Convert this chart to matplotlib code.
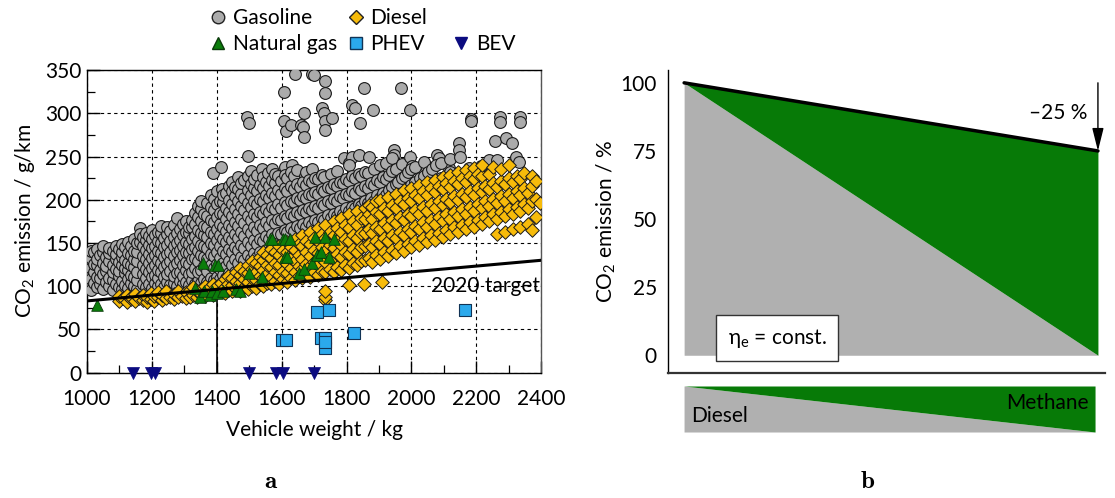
import matplotlib
matplotlib.use("Agg")
import matplotlib.pyplot as plt
from matplotlib.lines import Line2D
import numpy as np

plt.rcParams['font.family'] = ['Lato', 'DejaVu Sans']
plt.rcParams['mathtext.fontset'] = 'custom'
plt.rcParams['mathtext.rm'] = 'Lato'
plt.rcParams['mathtext.it'] = 'Lato:italic'

# ---------------- data (panel a): (vehicle weight kg, CO2 g/km) ----------------
gasoline = [
    (1002,101),(1002,113),(1002,128),(1002,137),
    (1012,96),(1012,108),(1012,121),(1012,133),(1012,141),
    (1022,104),(1022,117),(1022,126),(1022,139),
    (1031,99),(1031,111),(1031,124),(1031,131),(1031,143),
    (1041,102),(1041,109),(1041,119),(1041,136),
    (1050,97),(1050,114),(1050,127),(1050,140),(1050,146),
    (1060,105),(1060,118),(1060,123),(1060,134),
    (1069,100),(1069,110),(1069,129),(1069,138),(1069,144),
    (1079,96),(1079,107),(1079,116),(1079,125),(1079,141),
    (1088,103),(1088,120),(1088,131),(1088,137),(1088,147),
    (1098,99),(1098,112),(1098,118),(1098,128),(1098,143),
    (1107,97),(1107,106),(1107,124),(1107,134),(1107,140),(1107,149),
    (1117,101),(1117,115),(1117,121),(1117,130),(1117,145),
    (1126,98),(1126,108),(1126,119),(1126,127),(1126,138),(1126,151),
    (1136,104),(1136,113),(1136,125),(1136,136),(1136,146),
    (1145,100),(1145,111),(1145,122),(1145,132),(1145,141),(1145,155),
    (1155,97),(1155,107),(1155,117),(1155,129),(1155,139),(1155,150),
    (1163,151),(1163,167),(1163,160),
    (1172,103),(1172,114),(1172,124),(1172,135),(1172,146),(1172,157),
    (1182,99),(1182,109),(1182,120),(1182,131),(1182,142),(1182,153),(1182,161),
    (1191,102),(1191,116),(1191,127),(1191,137),(1191,148),(1191,158),
    (1200,98),(1200,111),(1200,121),(1200,133),(1200,144),(1200,155),(1200,165),
    (1210,104),(1210,113),(1210,125),(1210,136),(1210,147),(1210,159),
    (1219,100),(1219,109),(1219,119),(1219,130),(1219,141),(1219,152),(1219,163),
    (1229,103),(1229,116),(1229,127),(1229,138),(1229,150),(1229,161),(1229,170),
    (1238,99),(1238,111),(1238,122),(1238,134),(1238,145),(1238,156),
    (1248,105),(1248,114),(1248,126),(1248,137),(1248,148),(1248,160),(1248,168),
    (1257,101),(1257,118),(1257,129),(1257,140),(1257,152),(1257,164),
    (1267,104),(1267,112),(1267,123),(1267,135),(1267,146),(1267,157),(1267,171),
    (1276,100),(1276,115),(1276,127),(1276,139),(1276,150),(1276,162),(1276,179),
    (1286,106),(1286,117),(1286,130),(1286,142),(1286,153),(1286,166),
    (1295,102),(1295,112),(1295,124),(1295,136),(1295,147),(1295,159),(1295,172),
    (1305,105),(1305,119),(1305,128),(1305,140),(1305,151),(1305,163),(1305,175),
    (1314,101),(1314,114),(1314,126),(1314,138),(1314,149),(1314,161),(1314,169),
    (1324,107),(1324,116),(1324,131),(1324,143),(1324,155),(1324,168),(1324,177),
    (1333,103),(1333,121),(1333,133),(1333,145),(1333,158),(1333,172),(1333,185),
    (1343,106),(1343,117),(1343,129),(1343,141),(1343,152),(1343,165),(1343,180),(1343,193),
    (1352,104),(1352,119),(1352,136),(1352,148),(1352,161),(1352,175),(1352,189),(1352,199),
    (1362,108),(1362,123),(1362,134),(1362,147),(1362,159),(1362,170),(1362,184),
    (1371,105),(1371,118),(1371,131),(1371,144),(1371,157),(1371,168),(1371,181),(1371,196),
    (1381,110),(1381,124),(1381,137),(1381,150),(1381,163),(1381,177),(1381,192),(1381,206),
    (1389,231),
    (1390,107),(1390,121),(1390,135),(1390,148),(1390,160),(1390,174),(1390,188),(1390,201),
    (1400,111),(1400,126),(1400,139),(1400,153),(1400,166),(1400,180),(1400,195),(1400,210),
    (1413,238),(1417,212),
    (1409,108),(1409,120),(1409,133),(1409,146),(1409,159),(1409,172),(1409,185),(1409,199),
    (1419,113),(1419,127),(1419,141),(1419,155),(1419,168),(1419,183),(1419,197),(1419,205),
    (1428,110),(1428,123),(1428,137),(1428,151),(1428,164),(1428,178),(1428,191),(1428,208),
    (1438,115),(1438,129),(1438,143),(1438,157),(1438,171),(1438,186),(1438,200),(1438,216),
    (1447,112),(1447,125),(1447,139),(1447,153),(1447,167),(1447,181),(1447,195),(1447,210),(1447,221),
    (1457,117),(1457,131),(1457,145),(1457,160),(1457,174),(1457,189),(1457,204),(1457,215),
    (1466,114),(1466,127),(1466,142),(1466,156),(1466,170),(1466,184),(1466,198),(1466,212),(1466,226),
    (1476,119),(1476,134),(1476,148),(1476,163),(1476,178),(1476,193),(1476,207),(1476,219),
    (1485,116),(1485,130),(1485,144),(1485,158),(1485,173),(1485,188),(1485,202),(1485,223),
    (1492,296),(1500,289),(1496,251),
    (1495,121),(1495,136),(1495,151),(1495,166),(1495,181),(1495,196),(1495,211),(1495,227),
    (1504,118),(1504,132),(1504,147),(1504,162),(1504,177),(1504,192),(1504,206),(1504,218),(1504,233),
    (1514,123),(1514,138),(1514,153),(1514,168),(1514,183),(1514,198),(1514,214),(1514,224),
    (1523,120),(1523,134),(1523,149),(1523,164),(1523,180),(1523,195),(1523,210),(1523,229),
    (1533,125),(1533,140),(1533,155),(1533,171),(1533,186),(1533,201),(1533,217),(1540,235),
    (1542,122),(1542,137),(1542,152),(1542,167),(1542,183),(1542,199),(1542,213),(1542,226),
    (1552,127),(1552,142),(1552,158),(1552,174),(1552,189),(1552,205),(1552,220),(1558,231),
    (1561,124),(1561,139),(1561,155),(1561,170),(1561,186),(1561,202),(1561,216),
    (1571,129),(1571,145),(1571,160),(1571,176),(1571,192),(1571,208),(1571,223),(1571,236),
    (1580,126),(1580,141),(1580,157),(1580,173),(1580,189),(1580,204),(1580,219),(1580,230),
    (1590,131),(1590,147),(1590,162),(1590,178),(1590,195),(1590,211),(1590,227),
    (1607,325),(1607,291),(1614,279),(1629,287),(1641,345),
    (1599,128),(1599,144),(1599,160),(1599,176),(1599,191),(1599,207),(1599,222),(1610,238),
    (1609,133),(1609,149),(1609,165),(1609,181),(1609,197),(1609,213),(1609,229),
    (1618,130),(1618,146),(1618,163),(1618,179),(1618,194),(1618,210),(1618,225),(1632,240),
    (1628,135),(1628,151),(1628,167),(1628,183),(1628,199),(1628,216),(1628,232),
    (1637,132),(1637,148),(1637,164),(1637,181),(1637,197),(1637,212),(1637,228),
    (1647,137),(1647,153),(1647,170),(1647,186),(1647,202),(1647,218),(1647,234),
    (1659,287),(1669,300),(1665,284),(1669,272),(1672,227),
    (1656,134),(1656,150),(1656,167),(1656,183),(1656,200),(1656,215),
    (1666,139),(1666,155),(1666,172),(1666,188),(1666,204),(1666,220),
    (1675,136),(1675,153),(1675,169),(1675,186),(1675,202),(1675,217),(1675,232),
    (1694,345),(1699,344),
    (1685,141),(1685,157),(1685,174),(1685,190),(1685,207),(1685,223),
    (1694,138),(1694,155),(1694,171),(1694,188),(1694,205),(1694,221),(1694,235),
    (1704,143),(1704,160),(1704,176),(1704,193),(1704,209),(1704,225),
    (1725,306),(1730,300),(1735,337),(1735,323),(1735,291),(1735,281),(1756,294),
    (1713,140),(1713,157),(1713,174),(1713,191),(1713,207),(1713,224),
    (1723,146),(1723,162),(1723,179),(1723,196),(1723,212),(1723,229),
    (1732,142),(1732,159),(1732,177),(1732,194),(1732,210),(1732,226),
    (1742,148),(1742,165),(1742,182),(1742,198),(1742,215),
    (1751,145),(1751,162),(1751,179),(1751,196),(1751,213),(1751,230),
    (1761,150),(1761,167),(1761,184),(1761,201),(1761,218),
    (1770,147),(1770,164),(1770,181),(1770,199),(1770,216),(1770,233),
    (1780,152),(1780,170),(1780,187),(1780,204),(1780,221),
    (1789,149),(1789,167),(1789,184),(1789,202),(1789,219),(1791,248),
    (1807,242),(1817,250),(1837,252),(1868,250),
    (1817,310),(1827,306),(1841,289),(1853,329),(1882,304),
    (1799,155),(1799,172),(1799,190),(1799,207),(1799,224),
    (1808,151),(1808,169),(1808,187),(1808,205),(1808,222),(1808,240),
    (1818,157),(1818,175),(1818,192),(1818,210),(1818,227),
    (1827,154),(1827,172),(1827,190),(1827,208),(1827,225),
    (1837,160),(1837,177),(1837,195),(1837,213),(1837,230),
    (1846,156),(1846,175),(1846,193),(1846,211),(1846,228),
    (1856,163),(1856,180),(1856,198),(1856,216),(1856,232),
    (1865,159),(1865,178),(1865,196),(1865,214),(1865,231),
    (1875,166),(1875,184),(1875,202),(1875,219),
    (1884,162),(1884,181),(1884,199),(1884,217),(1884,236),
    (1894,169),(1894,187),(1894,205),(1894,223),
    (1903,165),(1903,184),(1903,202),(1903,221),(1903,240),
    (1913,172),(1913,190),(1913,208),(1913,226),
    (1922,168),(1922,187),(1922,206),(1922,224),(1922,243),
    (1932,175),(1932,193),(1932,211),(1932,229),
    (1946,258),(1946,252),(1940,248),(1956,235),(1969,329),
    (1941,178),(1941,196),(1941,215),(1941,233),
    (1951,182),(1951,200),(1951,218),(1951,236),
    (1960,185),(1960,203),(1960,221),
    (1970,189),(1970,207),(1970,225),(1970,241),
    (1980,192),(1980,210),(1980,228),
    (1986,161),(1991,151),
    (1990,196),(1990,214),(1990,232),
    (1997,304),(1997,250),(2002,239),(2043,240),(2043,188),
    (2000,199),(2000,217),(2000,235),
    (2012,203),(2012,221),(2012,238),
    (2025,207),(2025,225),
    (2038,210),(2038,228),(2038,244),
    (2050,214),(2050,232),
    (2063,218),(2063,236),
    (2079,252),(2084,248),(2105,194),(2105,183),(2115,237),
    (2076,222),(2076,240),
    (2090,225),(2090,243),
    (2120,232),(2120,247),
    (2146,266),(2146,258),(2151,250),(2177,237),
    (2183,293),(2183,291),(2213,239),
    (2239,246),(2264,246),(2259,268),(2290,271),(2311,266),
    (2274,296),(2274,290),(2334,296),(2334,290),
    (2321,250),(2331,244),(2311,194),
]

diesel = [
    (1100,83),(1100,89),(1112,86),(1124,82),(1124,90),(1136,85),(1136,88),
    (1148,83),(1148,91),(1160,86),(1172,84),(1172,90),(1184,82),(1184,87),
    (1196,85),(1196,92),(1208,83),(1208,89),(1220,87),(1220,93),(1232,84),(1232,90),
    (1244,86),(1244,94),(1256,88),(1268,85),(1268,91),(1280,87),(1280,95),
    (1292,89),(1304,86),(1304,93),(1316,88),(1316,96),(1328,90),(1328,99),
    (1340,87),(1340,94),(1352,91),(1352,97),(1364,89),(1364,100),(1376,92),(1376,98),
    (1388,90),(1388,103),(1400,93),(1400,100),(1412,95),(1412,104),
    (1424,92),(1424,99),(1424,108),(1436,96),(1436,103),(1436,112),
    (1448,94),(1448,101),(1448,110),(1460,97),(1460,106),(1460,116),
    (1472,95),(1472,104),(1472,113),(1472,121),(1484,99),(1484,108),(1484,118),
    (1496,97),(1496,105),(1496,115),(1496,125),(1508,100),(1508,110),(1508,120),(1508,129),
    (1520,98),(1520,107),(1520,117),(1520,127),(1532,102),(1532,112),(1532,123),(1532,134),
    (1544,100),(1544,109),(1544,119),(1544,130),(1544,139),
    (1556,104),(1556,114),(1556,125),(1556,136),
    (1568,102),(1568,111),(1568,122),(1568,133),(1568,143),
    (1580,106),(1580,116),(1580,127),(1580,139),
    (1592,103),(1592,113),(1592,124),(1592,136),(1592,147),
    (1604,108),(1604,118),(1604,130),(1604,142),
    (1616,105),(1616,115),(1616,126),(1616,139),(1616,151),
    (1628,110),(1628,121),(1628,133),(1628,145),
    (1640,107),(1640,117),(1640,129),(1640,142),(1640,155),
    (1652,112),(1652,123),(1652,136),(1652,149),
    (1664,109),(1664,120),(1664,132),(1664,146),(1664,159),
    (1676,114),(1676,126),(1676,139),(1676,152),
    (1688,111),(1688,123),(1688,135),(1688,149),(1688,163),
    (1700,116),(1700,128),(1700,142),(1700,156),
    (1712,113),(1712,125),(1712,138),(1712,152),(1712,167),
    (1724,118),(1724,131),(1724,145),(1724,160),
    (1735,84),(1735,88),(1735,95),(1735,116),(1735,128),(1735,141),(1735,156),(1735,171),
    (1748,120),(1748,134),(1748,148),(1748,163),
    (1760,117),(1760,131),(1760,144),(1760,159),(1760,175),
    (1772,122),(1772,137),(1772,152),(1772,167),
    (1784,119),(1784,134),(1784,148),(1784,163),(1784,179),
    (1796,125),(1796,140),(1796,155),(1796,171),
    (1807,101),(1807,121),(1807,137),(1807,152),(1807,167),(1807,183),
    (1820,127),(1820,143),(1820,159),(1820,175),
    (1832,124),(1832,140),(1832,156),(1832,171),(1832,187),
    (1844,129),(1844,145),(1844,162),(1844,179),
    (1853,103),(1856,130),(1856,146),(1856,162),(1856,178),(1856,190),
    (1868,133),(1868,149),(1868,166),(1868,183),(1868,194),
    (1880,128),(1880,145),(1880,161),(1880,178),(1880,192),
    (1892,136),(1892,152),(1892,169),(1892,186),(1892,198),
    (1909,105),(1904,132),(1904,149),(1904,166),(1904,183),(1904,200),
    (1916,139),(1916,156),(1916,173),(1916,190),
    (1928,135),(1928,152),(1928,169),(1928,187),(1928,203),
    (1940,142),(1940,159),(1940,176),(1940,194),
    (1952,138),(1952,156),(1952,173),(1952,191),(1952,207),
    (1964,146),(1964,163),(1964,180),(1964,198),
    (1976,141),(1976,159),(1976,177),(1976,195),(1976,211),
    (1988,149),(1988,166),(1988,184),(1988,202),
    (2000,145),(2000,163),(2000,181),(2000,199),(2000,214),
    (2012,152),(2012,170),(2012,188),(2012,206),
    (2024,148),(2024,166),(2024,184),(2024,202),(2024,217),
    (2036,156),(2036,174),(2036,192),(2036,210),
    (2048,151),(2048,169),(2048,187),(2048,206),(2048,220),
    (2060,159),(2060,177),(2060,195),(2060,213),
    (2072,154),(2072,172),(2072,191),(2072,209),(2072,223),
    (2084,162),(2084,180),(2084,198),(2084,216),
    (2096,157),(2096,175),(2096,194),(2096,212),(2096,226),
    (2108,165),(2108,183),(2108,201),(2108,219),
    (2120,160),(2120,178),(2120,197),(2120,215),(2120,229),
    (2132,168),(2132,186),(2132,204),(2132,222),
    (2144,163),(2144,181),(2144,200),(2144,218),(2144,232),
    (2156,171),(2156,189),(2156,207),(2156,225),
    (2168,166),(2168,184),(2168,203),(2168,221),(2168,234),
    (2180,174),(2180,192),(2180,210),(2180,228),
    (2192,169),(2192,187),(2192,206),(2192,224),(2192,237),
    (2204,177),(2204,195),(2204,213),(2204,230),
    (2216,172),(2216,190),(2216,209),(2216,227),(2216,240),
    (2228,180),(2228,198),(2228,216),
    (2240,175),(2240,193),(2240,212),(2240,230),
    (2252,183),(2252,201),(2252,219),(2252,238),
    (2264,160),(2264,178),(2264,196),(2264,215),
    (2276,186),(2276,204),(2276,222),(2276,235),
    (2288,163),(2288,181),(2288,199),(2288,218),
    (2300,189),(2300,207),(2300,225),(2300,240),
    (2312,166),(2312,184),(2312,202),(2312,221),
    (2324,192),(2324,210),(2324,228),
    (2336,169),(2336,187),(2336,205),(2336,224),
    (2348,195),(2348,213),(2348,231),
    (2360,172),(2360,190),(2360,208),
    (2372,165),(2372,198),(2372,216),(2372,228),
    (2384,180),(2384,201),(2384,222),(2396,196),
]

natural_gas = [
    (1030,78),(1333,98),(1349,88),(1360,95),(1359,127),(1380,90),(1384,94),
    (1395,125),(1405,125),(1400,92),(1420,95),(1460,97),(1472,94),
    (1500,115),(1539,111),(1564,155),(1569,155),(1605,155),(1610,155),
    (1626,155),(1610,134),(1616,134),(1652,115),(1670,120),(1694,127),
    (1703,157),(1709,136),(1720,140),(1735,157),(1745,134),(1761,155),
]

phev = [
    (1600,38),(1612,38),(1709,70),(1747,72),(1822,46),
    (1722,40),(1735,40),(1733,28),(1735,35),(2166,72),
]

bev_weight = [1141, 1196, 1211, 1500, 1583, 1603, 1699]
bev_co2 = [0, 0, 0, 0, 0, 0, 0]

target_weight = [1000, 2400]
target_co2 = [83, 130]

x_ticks = [1000, 1200, 1400, 1600, 1800, 2000, 2200, 2400]
y_ticks = [0, 50, 100, 150, 200, 250, 300, 350]

# ---------------- data (panel b) ----------------
methane_share = [0, 1]
total_emission = [100, 75]
diesel_part = [100, 0]
b_ticks = [0, 25, 50, 75, 100]

C_GAS = '#ababab'
C_DIE = '#f7bb0a'
C_NG = '#0b7d0b'
C_PHEV = '#2ba9ec'
C_BEV = '#0b0b80'
C_GREEN = '#077a07'
C_GRAY = '#b0b0b0'

FS = 15

fig = plt.figure(figsize=(11.15, 4.98), dpi=100)

# ---------------- panel a ----------------
ax = fig.add_axes([0.078, 0.2516, 0.4074, 0.6078])
gx, gy = zip(*gasoline)
dx, dy = zip(*diesel)
nx, ny = zip(*natural_gas)
px, py = zip(*phev)

ax.scatter(gx, gy, s=72, marker='o', facecolor=C_GAS, edgecolor='#1a1a1a', linewidth=0.8, zorder=3)
ax.scatter(dx, dy, s=48, marker='D', facecolor=C_DIE, edgecolor='#1a1a1a', linewidth=0.7, zorder=3)
ax.scatter(nx, ny, s=70, marker='^', facecolor=C_NG, edgecolor='#0a3a0a', linewidth=0.6, zorder=4)
ax.scatter(px, py, s=70, marker='s', facecolor=C_PHEV, edgecolor='#113355', linewidth=0.8, zorder=4)
ax.scatter(bev_weight, bev_co2, s=75, marker='v', facecolor=C_BEV, edgecolor=C_BEV, linewidth=0.5,
           zorder=5, clip_on=False)
ax.plot(target_weight, target_co2, color='black', lw=2.2, zorder=6)
ax.vlines(1400, 0, 90, color='black', lw=1.2, zorder=2)
ax.text(2395, 100, '2020 target', ha='right', va='center', fontsize=FS, zorder=7)

ax.set_xlim(1000, 2400)
ax.set_ylim(0, 350)
ax.set_xticks(x_ticks)
ax.set_yticks(y_ticks)
ax.set_xticks(np.arange(1100, 2400, 200), minor=True)
ax.set_yticks(np.arange(25, 350, 50), minor=True)
ax.tick_params(axis='both', which='major', direction='in', length=9, width=1.0, labelsize=FS)
ax.tick_params(axis='x', which='major', pad=12)
ax.tick_params(axis='y', which='major', pad=4)
ax.tick_params(axis='both', which='minor', direction='in', length=6, width=0.9)
ax.grid(True, which='major', linestyle=(0, (3, 3)), color='black', linewidth=0.8, zorder=0)
ax.set_axisbelow(True)
for s in ax.spines.values():
    s.set_linewidth(1.0)
ax.spines['right'].set_color('#555555')
ax.set_xlabel('Vehicle weight / kg', fontsize=FS, labelpad=8)
ax.set_ylabel('CO$_2$ emission / g/km', fontsize=FS, labelpad=6)

h_gas = Line2D([], [], marker='o', ls='', markersize=9, markerfacecolor=C_GAS, markeredgecolor='#222222', label='Gasoline')
h_ng = Line2D([], [], marker='^', ls='', markersize=9, markerfacecolor=C_NG, markeredgecolor='#0a3a0a', label='Natural gas')
h_die = Line2D([], [], marker='D', ls='', markersize=7, markerfacecolor=C_DIE, markeredgecolor='#222222', label='Diesel')
h_phev = Line2D([], [], marker='s', ls='', markersize=8, markerfacecolor=C_PHEV, markeredgecolor='#113355', label='PHEV')
h_none = Line2D([], [], ls='', label=' ')
h_bev = Line2D([], [], marker='v', ls='', markersize=9, markerfacecolor=C_BEV, markeredgecolor=C_BEV, label='BEV')

leg_kw = dict(loc='upper left', frameon=False, fontsize=FS, handlelength=0.8, handletextpad=0.3,
              labelspacing=0.28, borderaxespad=0, borderpad=0)
for hs, x0 in (([h_gas, h_ng], 0.1883), ([h_die, h_phev], 0.3115), ([h_none, h_bev], 0.4063)):
    lg = fig.legend(handles=hs, bbox_to_anchor=(x0, 0.984), **leg_kw)

# ---------------- panel b ----------------
bx = fig.add_axes([0.5991, 0.2516, 0.3919, 0.6078])
bx.fill_between(methane_share, 0, diesel_part, color=C_GRAY, lw=0, zorder=1)
bx.fill_between(methane_share, diesel_part, total_emission, color=C_GREEN, lw=0, zorder=1)
bx.plot(methane_share, total_emission, color='black', lw=2.5, zorder=3, solid_capstyle='round')
bx.annotate('', xy=(methane_share[1], total_emission[1]), xytext=(methane_share[1], 100),
            arrowprops=dict(arrowstyle='-|>,head_width=0.35,head_length=1.4', color='black', lw=1.0,
                            shrinkA=0, shrinkB=0), zorder=4)
bx.text(0.975, 89, '\u201325 %', ha='right', va='center', fontsize=FS)
bx.text(0.105, 6.3, '\u03b7$_\\mathrm{e}$ = const.', ha='left', va='center', fontsize=FS,
        bbox=dict(boxstyle='square,pad=0.55', facecolor='white', edgecolor='#333333', lw=1.0), zorder=5)
bx.set_xlim(-0.039, 1.017)
bx.set_ylim(-6.4, 104.7)
bx.set_yticks(b_ticks)
bx.set_xticks([])
bx.tick_params(axis='y', length=0, labelsize=FS, pad=8)
bx.spines['top'].set_visible(False)
bx.spines['right'].set_visible(False)
bx.spines['left'].set_linewidth(1.0)
bx.spines['bottom'].set_linewidth(1.6)
bx.spines['bottom'].set_color('#333333')
bx.set_ylabel('CO$_2$ emission / %', fontsize=FS, labelpad=2)

# fuel bar
cx = fig.add_axes([0.6135, 0.1325, 0.3686, 0.0924])
cx.fill_between(methane_share, [0, 0], [1, 0], color=C_GRAY, lw=0)
cx.fill_between(methane_share, [1, 0], [1, 1], color=C_GREEN, lw=0)
cx.set_xlim(0, 1)
cx.set_ylim(0, 1)
cx.axis('off')
cx.text(0.018, 0.12, 'Diesel', ha='left', va='bottom', fontsize=FS)
cx.text(0.985, 0.42, 'Methane', ha='right', va='bottom', fontsize=FS)

fig.text(0.2435, 0.012, r'$\mathbf{a}$', math_fontfamily='cm', fontsize=18, ha='center', va='bottom')
fig.text(0.7785, 0.012, r'$\mathbf{b}$', math_fontfamily='cm', fontsize=18, ha='center', va='bottom')

fig.savefig('out.png', dpi=100)
